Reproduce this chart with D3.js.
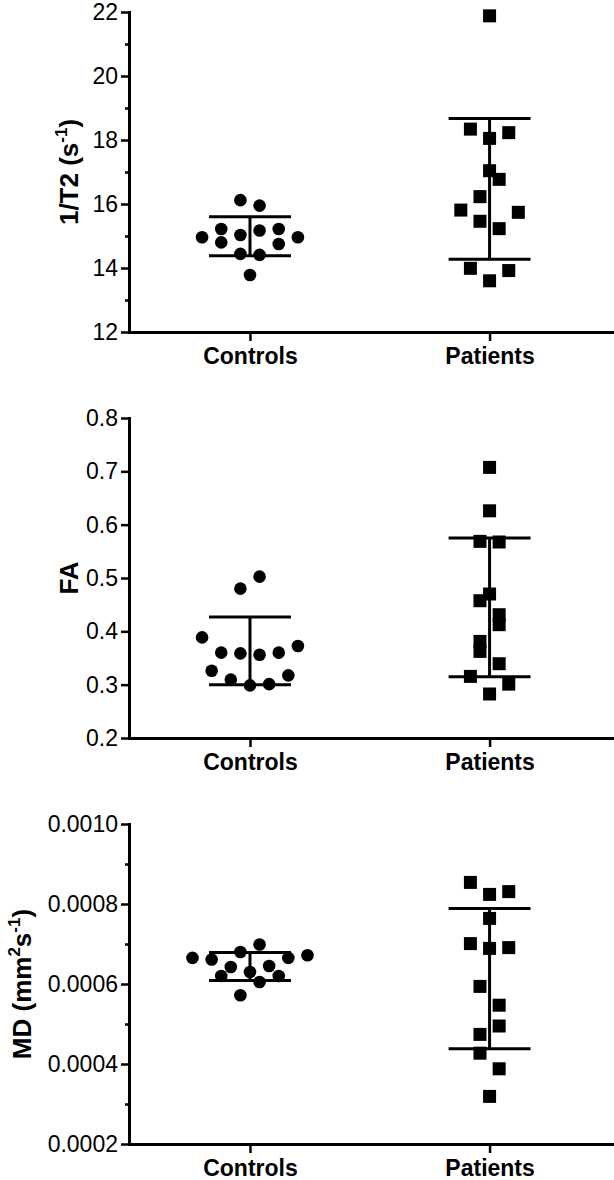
<!DOCTYPE html>
<html>
<head>
<meta charset="utf-8">
<script src="https://cdn.jsdelivr.net/npm/d3@7"></script>
<style>
  body { margin: 0; background: #fff; }
  text { font-family: "Liberation Sans", Arial, sans-serif; fill: #000; }
</style>
</head>
<body>
<svg id="chart" width="614" height="1180"></svg>
<script>
const groups = ['Controls', 'Patients'];

// 1/T2 (s-1)
const t2Controls = [16.12, 15.95, 14.96, 15.22, 14.80, 15.03, 15.17, 15.22, 14.96, 14.75, 14.44, 14.41, 13.78];
const t2ControlsLane = [-1, 1, -5, -3, -3, -1, 1, 3, 5, 3, -1, 1, 0];
const t2Patients = [21.88, 18.34, 18.23, 18.05, 17.04, 16.77, 16.23, 15.81, 15.74, 15.46, 15.23, 13.99, 13.92, 13.60];
const t2PatientsLane = [0, -2, 2, 0, 0, 1, -1, -3, 3, -1, 1, -2, 2, 0];
const t2Mean = [14.99, 16.47];
const t2Sd = [0.61, 2.20];
const t2Ticks = [12, 14, 16, 18, 20, 22];
const t2Minor = [13, 15, 17, 19, 21];

// FA
const faControls = [0.5025, 0.480, 0.3886, 0.360, 0.3587, 0.3562, 0.360, 0.3725, 0.3262, 0.3094, 0.2987, 0.301, 0.3175];
const faControlsLane = [1, -1, -5, -3, -1, 1, 3, 5, -4, -2, 0, 2, 4];
const faPatients = [0.7074, 0.626, 0.5687, 0.5675, 0.470, 0.4574, 0.4312, 0.4125, 0.3811, 0.3624, 0.3393, 0.3155, 0.301, 0.2825];
const faPatientsLane = [0, 0, -1, 1, 0, -1, 1, 1, -1, -1, 1, -2, 2, 0];
const faMean = [0.3635, 0.445];
const faSd = [0.0635, 0.130];
const faTicks = [0.2, 0.3, 0.4, 0.5, 0.6, 0.7, 0.8];
const faMinor = [];

// MD (mm2 s-1)
const mdControls = [0.0006988, 0.00068, 0.0006652, 0.0006612, 0.0006652, 0.000672, 0.0006426, 0.0006451, 0.00063, 0.00062, 0.00062, 0.000605, 0.0005717];
const mdControlsLane = [1, -1, -6, -4, 4, 6, -2, 2, 0, -3, 3, 1, -1];
const mdPatients = [0.000854, 0.000831, 0.000824, 0.000764, 0.000701, 0.000691, 0.000689, 0.000594, 0.000547, 0.000495, 0.000474, 0.000427, 0.000388, 0.000319];
const mdPatientsLane = [-2, 2, 0, 0, -2, 2, 0, -1, 1, 1, -1, -1, 1, 0];
const mdMean = [0.000644, 0.0006135];
const mdSd = [0.000035, 0.0001755];
const mdTicks = [0.0002, 0.0004, 0.0006, 0.0008, 0.0010];
const mdMinor = [0.0003, 0.0005, 0.0007, 0.0009];

const panels = [
  { top: 12, domain: [12, 22], ticks: t2Ticks, minor: t2Minor, fmt: d3.format('d'),
    values: [t2Controls, t2Patients], lanes: [t2ControlsLane, t2PatientsLane], mean: t2Mean, sd: t2Sd,
    title: [['1/T2 (s', 0], ['-1', 1], [')', 0]], titleX: 78 },
  { top: 418, domain: [0.2, 0.8], ticks: faTicks, minor: faMinor, fmt: d3.format('.1f'),
    values: [faControls, faPatients], lanes: [faControlsLane, faPatientsLane], mean: faMean, sd: faSd,
    title: [['FA', 0]], titleX: 78 },
  { top: 824, domain: [0.0002, 0.0010], ticks: mdTicks, minor: mdMinor, fmt: d3.format('.4f'),
    values: [mdControls, mdPatients], lanes: [mdControlsLane, mdPatientsLane], mean: mdMean, sd: mdSd,
    title: [['MD (mm', 0], ['2', 1], ['s', 0], ['-1', 1], [')', 0]], titleX: 31 }
];

const plotH = 320;
const laneStep = 0.04;
const capHalf = 0.171;
const svg = d3.select('#chart');
const x = d3.scaleLinear().domain([-0.505, 1.511]).range([129, 612]);

const styleAxis = (g, size, weight) => {
  g.attr('font-family', null).attr('font-size', null);
  g.select('.domain').attr('stroke-width', 3).attr('stroke-linecap', 'square');
  g.selectAll('.tick line').attr('stroke-width', 2.5);
  g.selectAll('.tick text').style('font-size', size + 'px').style('font-weight', weight).attr('fill', '#000');
};

panels.forEach(p => {
  const y = d3.scaleLinear().domain(p.domain).range([p.top + plotH, p.top]);
  const g = svg.append('g');

  // minor ticks
  g.append('g')
    .attr('transform', `translate(${x.range()[0]},0)`)
    .call(d3.axisLeft(y).tickValues(p.minor).tickSize(4).tickFormat('').tickSizeOuter(0))
    .call(ax => styleAxis(ax, 23, 'normal'));

  g.append('g')
    .attr('transform', `translate(${x.range()[0]},0)`)
    .call(d3.axisLeft(y).tickValues(p.ticks).tickSize(8).tickPadding(3).tickFormat(p.fmt).tickSizeOuter(0))
    .call(ax => styleAxis(ax, 23, 'normal'));

  g.append('g')
    .attr('transform', `translate(0,${p.top + plotH})`)
    .call(d3.axisBottom(x).tickValues([0, 1]).tickFormat(i => groups[i]).tickSize(9).tickPadding(7).tickSizeOuter(0))
    .call(ax => styleAxis(ax, 23, 'bold'));

  // y title
  const title = g.append('text')
    .attr('transform', `translate(${p.titleX},${p.top + plotH / 2}) rotate(-90)`)
    .attr('text-anchor', 'middle')
    .style('font-size', '26px')
    .style('font-weight', 'bold');
  let prevSup = 0;
  p.title.forEach(([txt, sup]) => {
    title.append('tspan')
      .attr('dy', (sup - prevSup) * -11)
      .style('font-size', sup ? '17px' : '26px')
      .text(txt);
    prevSup = sup;
  });

  // controls: circles
  g.append('g').selectAll('circle')
    .data(p.values[0].map((v, i) => ({ v, lane: p.lanes[0][i] })))
    .enter().append('circle')
    .attr('cx', d => x(0 + d.lane * laneStep))
    .attr('cy', d => y(d.v))
    .attr('r', 6.3)
    .attr('fill', '#000');

  // patients: squares
  g.append('g').selectAll('rect')
    .data(p.values[1].map((v, i) => ({ v, lane: p.lanes[1][i] })))
    .enter().append('rect')
    .attr('x', d => x(1 + d.lane * laneStep) - 6.5)
    .attr('y', d => y(d.v) - 6.5)
    .attr('width', 13)
    .attr('height', 13)
    .attr('fill', '#000');

  // mean +/- SD bars
  const bars = g.append('g').attr('stroke', '#000').attr('stroke-width', 3);
  groups.forEach((name, gi) => {
    const hi = p.mean[gi] + p.sd[gi];
    const lo = p.mean[gi] - p.sd[gi];
    bars.append('line').attr('x1', x(gi)).attr('x2', x(gi)).attr('y1', y(hi)).attr('y2', y(lo));
    [hi, lo].forEach(v => {
      bars.append('line')
        .attr('x1', x(gi - capHalf)).attr('x2', x(gi + capHalf))
        .attr('y1', y(v)).attr('y2', y(v));
    });
  });
});
</script>
</body>
</html>
